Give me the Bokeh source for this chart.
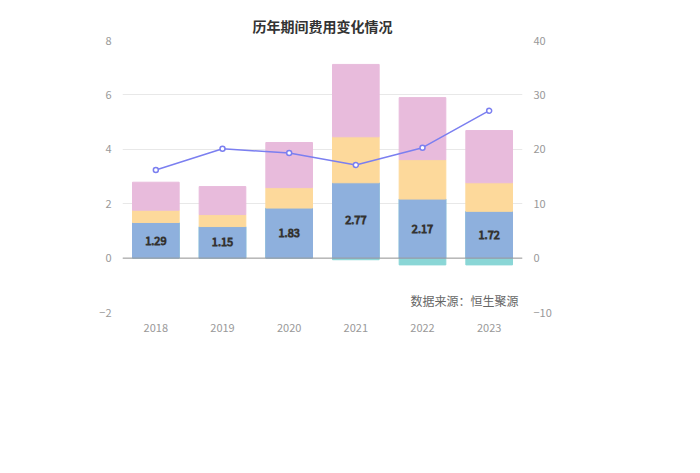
from bokeh.plotting import figure
from bokeh.models import Range1d, LinearAxis, Span, Label, Legend, FixedTicker, ColumnDataSource
from bokeh.embed import file_html
from bokeh.resources import INLINE
from bokeh.core.properties import value

years = ["2018", "2019", "2020", "2021", "2022", "2023"]
sales = [1.29, 1.15, 1.83, 2.77, 2.17, 1.72]
mgmt = [0.45, 0.44, 0.75, 1.69, 1.45, 1.05]
finance = [0.02, 0.01, 0.01, -0.06, -0.25, -0.25]
rnd = [1.03, 1.03, 1.66, 2.66, 2.28, 1.92]
rate = [16.2, 20.1, 19.3, 17.1, 20.3, 27.1]

F = "Noto Sans CJK SC"
fin_pos = [max(f, 0) for f in finance]
fin_neg = [min(f, 0) for f in finance]
m_bot = [s + fp for s, fp in zip(sales, fin_pos)]
m_top = [b + m for b, m in zip(m_bot, mgmt)]
r_top = [b + r for b, r in zip(m_top, rnd)]

p = figure(x_range=years, y_range=Range1d(-2, 8), frame_width=400, frame_height=272,
           output_backend="svg", toolbar_location=None,
           min_border_left=122, min_border_right=162, min_border_top=40, min_border_bottom=145)
p.title.text = "历年期间费用变化情况"
p.title.align = "center"
p.title.offset = -5
p.title.text_font = F
p.title.text_font_size = "14px"
p.title.text_color = "#333333"
p.outline_line_color = None
p.extra_y_ranges = {"r": Range1d(-10, 40)}

w = 0.7
b3 = p.vbar(x=years, bottom=fin_neg, top=m_bot, width=w, color="#8ad6d6")
b1 = p.vbar(x=years, bottom=0, top=sales, width=w, color="#8eb0dd")
b2 = p.vbar(x=years, bottom=m_bot, top=m_top, width=w, color="#fdd99b")
b4 = p.vbar(x=years, bottom=m_top, top=r_top, width=w, color="#e8bbdc")
p.add_layout(Span(location=0, dimension="width", line_color="#999999", line_width=1))
l1 = p.line(x=years, y=rate, y_range_name="r", line_color="#7b7ff0", line_width=1.5)
l2 = p.scatter(x=years, y=rate, y_range_name="r", size=5, fill_color="white", line_color="#7b7ff0", line_width=1.5)

src = ColumnDataSource(dict(x=years, y=[s / 2 for s in sales], t=[f"{s:.2f}" for s in sales]))
p.text(x="x", y="y", text="t", source=src, text_align="center", text_baseline="middle",
       text_color="white", text_font_size="11px", text_font=value(F),
       text_outline_color="#333333")

p.yaxis[0].ticker = FixedTicker(ticks=[-2, 0, 2, 4, 6, 8])
ra = LinearAxis(y_range_name="r", ticker=FixedTicker(ticks=[-10, 0, 10, 20, 30, 40]))
p.add_layout(ra, "right")
for ax in [p.yaxis[0], ra, p.xaxis[0]]:
    ax.axis_line_color = None
    ax.major_tick_line_color = None
    ax.minor_tick_line_color = None
    ax.major_label_text_color = "#999999"
    ax.major_label_text_font = F
    ax.major_label_text_font_size = "11px"
p.xgrid.grid_line_color = None
p.ygrid.grid_line_color = "#e8e8e8"
p.ygrid.ticker = FixedTicker(ticks=[-2, 0, 2, 4, 6, 8])

leg = Legend(items=[("左轴：销售费用（亿元）", [b1]), ("左轴：研发费用（亿元）", [b4]),
                    ("左轴：管理费用（亿元）", [b2]), ("右轴：期间费用率（%）", [l1, l2]),
                    ("左轴：财务费用（亿元）", [b3])],
             ncols=3, label_text_font=F, label_text_font_size="11px", label_text_color="#666666",
             border_line_color=None, glyph_width=22, glyph_height=12, spacing=2,
             label_standoff=6, margin=0, padding=0, location="center")
leg.margin = 0
p.add_layout(leg, "below")
p.add_layout(Label(x=342, y=4, x_units="screen", y_units="screen", text="数据来源：恒生聚源",
                   text_align="center", text_font=F, text_font_size="12px", text_color="#666666"))
open("out.html", "w").write(file_html(p, INLINE))
